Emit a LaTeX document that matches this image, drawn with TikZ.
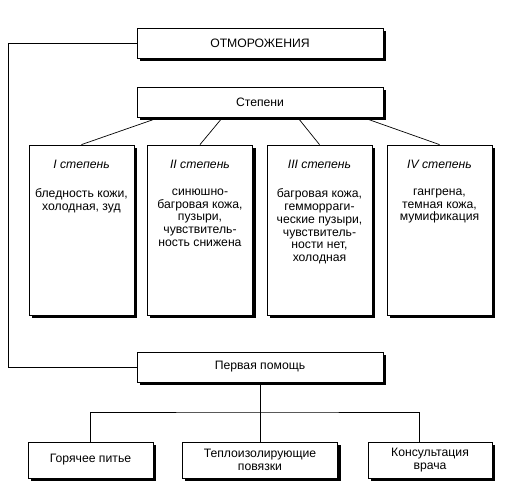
\documentclass[tikz,border=0pt]{standalone}
\usepackage{fontspec}
\setmainfont{Liberation Sans}

\pgfdeclarelayer{background}
\pgfsetlayers{background,main}

\tikzset{
  box/.style={draw, fill=white, line width=0.8pt, inner sep=0pt, align=center},
  wide/.style={box, minimum width=246pt, minimum height=30pt},
  stagebox/.style={box, minimum width=105pt, minimum height=170pt},
  aidbox/.style={box, minimum height=36pt},
  txt/.style={align=center, inner sep=0pt, font=\fontsize{12.2}{12.8}\selectfont},
  link/.style={line width=0.7pt}
}

\begin{document}
\begin{tikzpicture}[x=1pt,y=-1pt]
\useasboundingbox (0,0) rectangle (531,502);

% top level
\node[wide, txt] (frost) at (260,43) {ОТМОРОЖЕНИЯ};
\node[wide, txt] (deg) at (260,102) {Степени};

% stages
\node[stagebox] (s1) at (81.5,230) {};
\node[stagebox] (s2) at (200,230) {};
\node[stagebox] (s3) at (319.5,230) {};
\node[stagebox] (s4) at (439.5,230) {};
\foreach \s/\t in {s1/I, s2/II, s3/III, s4/IV}
  \node[txt, font=\fontsize{12.2}{12.8}\selectfont\itshape] (\s t) at ([yshift=-20pt]\s.north) {\t{} степень};
\node[txt, anchor=north] (s1d) at ([yshift=-44pt]s1.north) {бледность кожи,\\холодная, зуд};
\node[txt, anchor=north] (s2d) at ([yshift=-44pt]s2.north) {синюшно-\\багровая кожа,\\пузыри,\\чувствитель-\\ность снижена};
\node[txt, anchor=north] (s3d) at ([yshift=-44pt]s3.north) {багровая кожа,\\геммoрраги-\\ческие пузыри,\\чувствитель-\\ности нет,\\холодная};
\node[txt, anchor=north] (s4d) at ([yshift=-44pt]s4.north) {гангрена,\\темная кожа,\\мумификация};

\draw[link] ([xshift=23pt]deg.south west) -- (s1.north);
\draw[link] ([xshift=86pt]deg.south west) -- (s2.north);
\draw[link] ([xshift=161pt]deg.south west) -- (s3.north);
\draw[link] ([xshift=226pt]deg.south west) -- (s4.north);

% first aid
\node[wide, txt] (aid) at (260,367) {Первая помощь};
\coordinate (corner) at (8,43);
\draw[link] (frost.west) -- (corner) |- (aid.west);

\node[aidbox, txt, minimum width=125pt] (a1) at (90.5,460) {Горячее питье};
\node[aidbox, txt, minimum width=155pt] (a2) at (260,460) {Теплоизолирующие\\повязки};
\node[aidbox, txt, minimum width=124pt] (a3) at (430,460) {Консультация\\врача};

\coordinate (split) at (260,412);
\draw[link] (aid.south) -- (split);
\draw[link] (a1.north) |- (split) -| ([xshift=-11pt]a3.north);
\draw[link] (split) -- (a2.north);

% shadows
\begin{pgfonlayer}{background}
\fill[white] (0,0) rectangle (531,502);
\foreach \n in {frost, deg, s1, s2, s3, s4, aid, a1, a2, a3}
  \fill[black] ([shift={(3pt,-3pt)}]\n.south west) rectangle ([shift={(3pt,-3pt)}]\n.north east);
\end{pgfonlayer}
\end{tikzpicture}
\end{document}
